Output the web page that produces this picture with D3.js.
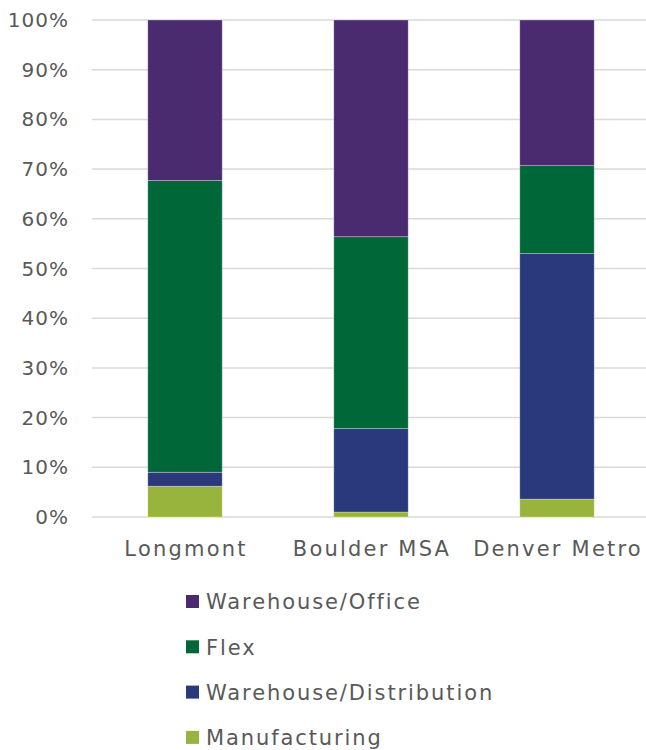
<!DOCTYPE html>
<html>
<head>
<meta charset="utf-8">
<script src="https://cdn.jsdelivr.net/npm/d3@7"></script>
<style>
  body { margin: 0; background: #fff; }
  svg text { font-family: "DejaVu Sans", sans-serif; fill: #595959; }
</style>
</head>
<body>
<svg id="chart" width="646" height="750"></svg>
<script>
const categories = ["Longmont", "Boulder MSA", "Denver Metro"];
const seriesNames = ["Manufacturing", "Warehouse/Distribution", "Flex", "Warehouse/Office"];
const manufacturing = [6.2, 1.0, 3.6];
const distribution = [2.8, 16.8, 49.4];
const flex = [58.7, 38.6, 17.7];
const office = [32.3, 43.6, 29.3];
const yTicks = [0, 10, 20, 30, 40, 50, 60, 70, 80, 90, 100];

const colors = {
  "Manufacturing": "#98b43c",
  "Warehouse/Distribution": "#29397b",
  "Flex": "#006838",
  "Warehouse/Office": "#4b2b70"
};

const rows = categories.map((c, i) => ({
  cat: c,
  "Manufacturing": manufacturing[i],
  "Warehouse/Distribution": distribution[i],
  "Flex": flex[i],
  "Warehouse/Office": office[i]
}));

const svg = d3.select("#chart");
const margin = { left: 92, top: 20 };
const width = 558, height = 497;

const x = d3.scaleBand().domain(categories).range([0, width]).paddingInner(0.6).paddingOuter(0.3);
const y = d3.scaleLinear().domain([0, 100]).range([height, 0]);

const g = svg.append("g").attr("transform", `translate(${margin.left},${margin.top})`);

// gridlines
g.selectAll(".grid").data(yTicks).join("line")
  .attr("x1", 0).attr("x2", width)
  .attr("y1", d => y(d)).attr("y2", d => y(d))
  .attr("stroke", "#d9d9d9").attr("stroke-width", 1.5);

// y labels
g.selectAll(".ylab").data(yTicks).join("text")
  .attr("x", -23).attr("y", d => y(d)).attr("dy", "0.35em")
  .attr("text-anchor", "end").attr("font-size", 20).attr("letter-spacing", 1)
  .text(d => d + "%");

const stack = d3.stack().keys(seriesNames)(rows);

g.selectAll(".layer").data(stack).join("g")
  .attr("fill", d => colors[d.key])
  .selectAll("rect").data(d => d).join("rect")
  .attr("x", d => x(d.data.cat))
  .attr("width", x.bandwidth())
  .attr("y", d => y(d[1]))
  .attr("height", d => y(d[0]) - y(d[1]))
  .attr("stroke", "#ffffff").attr("stroke-opacity", 0.35).attr("stroke-width", 0.8);

// x labels
g.selectAll(".xlab").data(categories).join("text")
  .attr("x", d => x(d) + x.bandwidth() / 2 + 1)
  .attr("y", height + 39)
  .attr("text-anchor", "middle").attr("font-size", 21).attr("letter-spacing", 2.2)
  .text(d => d);

// legend (top to bottom: reversed stack order)
const legendItems = seriesNames.slice().reverse();
const lg = svg.append("g").attr("transform", "translate(186,602)");
const item = lg.selectAll("g").data(legendItems).join("g")
  .attr("transform", (d, i) => `translate(0,${i * 45.3})`);
item.append("rect").attr("x", 0).attr("y", -7).attr("width", 13).attr("height", 13)
  .attr("fill", d => colors[d]);
item.append("text").attr("x", 20).attr("y", 0).attr("dy", "0.35em")
  .attr("font-size", 21).attr("letter-spacing", 1.9).text(d => d);
</script>
</body>
</html>
